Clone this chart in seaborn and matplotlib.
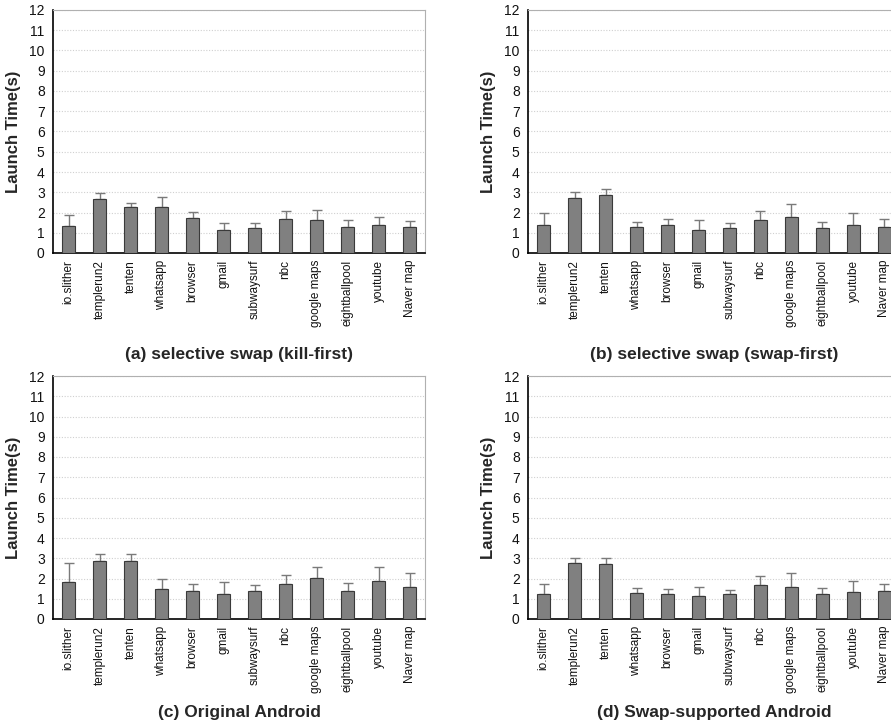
import numpy as np
import pandas as pd
import matplotlib
matplotlib.use("Agg")
import matplotlib.pyplot as plt
import seaborn as sns

apps = ["io.slither", "templerun2", "tenten", "whatsapp", "browser", "gmail",
        "subwaysurf", "nbc", "google maps", "eightballpool", "youtube", "Naver map"]

kill_first_mean = [1.35, 2.68, 2.28, 2.25, 1.75, 1.15, 1.25, 1.68, 1.62, 1.30, 1.36, 1.30]
kill_first_top  = [1.88, 2.98, 2.45, 2.78, 2.02, 1.48, 1.46, 2.08, 2.13, 1.62, 1.78, 1.58]

swap_first_mean = [1.40, 2.70, 2.88, 1.30, 1.40, 1.15, 1.25, 1.65, 1.80, 1.25, 1.40, 1.30]
swap_first_top  = [1.98, 3.02, 3.18, 1.53, 1.66, 1.62, 1.49, 2.08, 2.42, 1.53, 1.98, 1.68]

original_mean = [1.83, 2.88, 2.88, 1.50, 1.39, 1.24, 1.39, 1.74, 2.03, 1.39, 1.88, 1.59]
original_top  = [2.78, 3.23, 3.23, 1.97, 1.73, 1.82, 1.67, 2.18, 2.58, 1.77, 2.58, 2.26]

swapsup_mean = [1.24, 2.78, 2.73, 1.29, 1.24, 1.14, 1.24, 1.70, 1.59, 1.24, 1.34, 1.39]
swapsup_top  = [1.73, 3.02, 3.02, 1.53, 1.47, 1.57, 1.43, 2.13, 2.28, 1.53, 1.88, 1.73]

titles = ["(a) selective swap (kill-first)", "(b) selective swap (swap-first)",
          "(c) Original Android", "(d) Swap-supported Android"]
y_label = "Launch Time(s)"
y_ticks = list(range(0, 13))

panels = [(kill_first_mean, kill_first_top), (swap_first_mean, swap_first_top),
          (original_mean, original_top), (swapsup_mean, swapsup_top)]

sns.set_style("white")
plt.rcParams['font.family'] = ['Liberation Sans', 'DejaVu Sans']

W, H = 891, 724
fig = plt.figure(figsize=(W / 100, H / 100), dpi=100)

# axes rectangles in pixels: left, top, width, height
rects = [(53, 10, 372, 243), (528, 10, 372, 243),
         (53, 376, 372, 243), (528, 376, 372, 243)]
title_y = [355, 355, 712, 712]
title_x = [239, 714, 239, 714]

for i, ((means, tops), (l, t, w, h)) in enumerate(zip(panels, rects)):
    ax = fig.add_axes([l / W, 1 - (t + h) / H, w / W, h / H])
    df = pd.DataFrame({"app": apps, "time": means})
    sns.barplot(data=df, x="app", y="time", ax=ax, color="#808080",
                edgecolor="#3a3a3a", linewidth=0.8, width=0.41,
                saturation=1, errorbar=None, zorder=3)
    err = np.array(tops) - np.array(means)
    ax.errorbar(np.arange(len(apps)), means, yerr=[np.zeros(len(apps)), err],
                fmt="none", ecolor="#7a7a7a", elinewidth=1.0, capsize=3.5,
                capthick=1.0, zorder=2)
    ax.set_xlim(-0.5, len(apps) - 0.5)
    ax.set_ylim(0, 12)
    ax.set_yticks(y_ticks)
    ax.set_yticklabels([str(v) for v in y_ticks], fontsize=10, color="#111111")
    ax.set_xticks(np.arange(len(apps)))
    ax.set_xticklabels(apps, rotation=90, fontsize=8.5, color="#111111")
    ax.set_xticks(np.arange(len(apps) + 1) - 0.5, minor=True)
    ax.tick_params(axis="x", which="major", length=0, pad=5)
    ax.tick_params(axis="x", which="minor", length=4, color="#a0a0a0", width=0.8)
    ax.tick_params(axis="y", length=3, color="#a0a0a0", width=0.8, pad=3)
    ax.set_xlabel("")
    ax.set_ylabel(y_label, fontsize=12, fontweight="bold", labelpad=6)
    ax.yaxis.grid(True, linestyle=(0, (1, 1.5)), color="#d0d0d0", linewidth=0.8, zorder=0)
    ax.set_axisbelow(True)
    for side in ["top", "right"]:
        ax.spines[side].set_visible(True)
        ax.spines[side].set_color("#b0b0b0")
        ax.spines[side].set_linewidth(0.8)
    for side in ["left", "bottom"]:
        ax.spines[side].set_color("black")
        ax.spines[side].set_linewidth(1.2)
    fig.text(title_x[i] / W, 1 - title_y[i] / H, titles[i], ha="center", va="center",
             fontsize=12.5, fontweight="bold")

fig.savefig("out.png", dpi=100, facecolor="white")
